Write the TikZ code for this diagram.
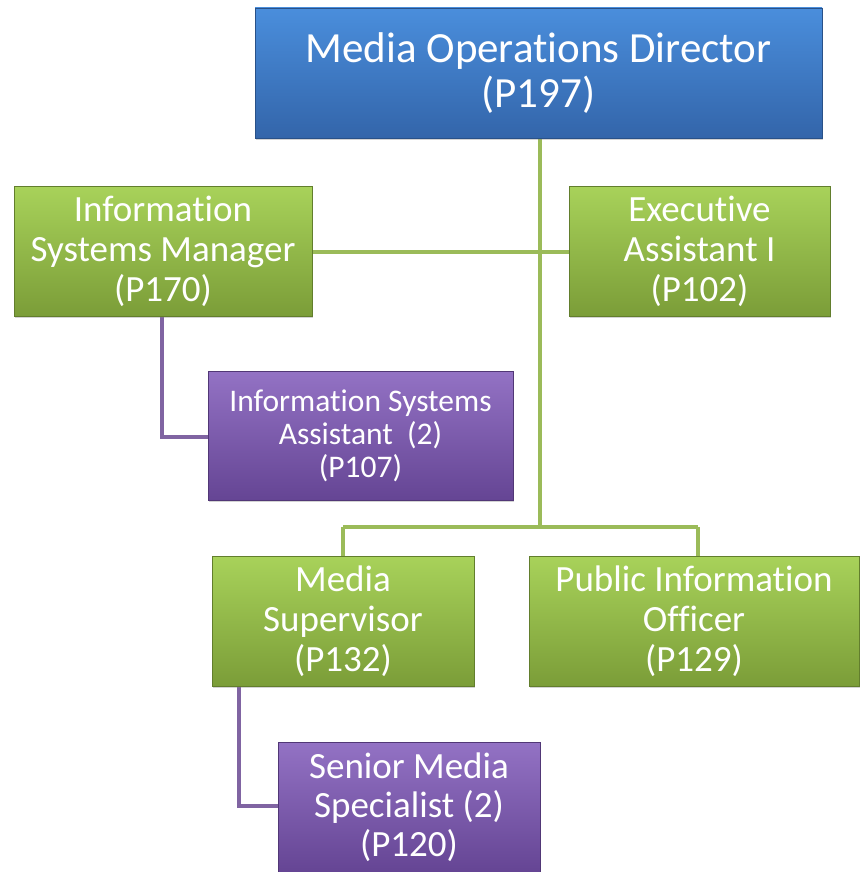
\documentclass[tikz,border=0pt]{standalone}
\usepackage{fontspec}
\setmainfont{Carlito}[Ligatures=NoCommon]
\usepackage{xcolor}
\usetikzlibrary{shadows}

\definecolor{grntop}{HTML}{A8D25A}
\definecolor{grnbot}{HTML}{7B9D38}
\definecolor{blutop}{HTML}{4A8EDC}
\definecolor{blubot}{HTML}{3365AA}
\definecolor{purtop}{HTML}{9372C4}
\definecolor{purbot}{HTML}{654594}
\definecolor{grnline}{HTML}{9BBB59}
\definecolor{purline}{HTML}{8064A2}

\tikzset{
  box/.style={rectangle, align=center, text=white, inner sep=0pt, minimum height=130pt,
    drop shadow={opacity=0.35, shadow xshift=1pt, shadow yshift=-2pt}},
  grnbox/.style={box, top color=grntop, bottom color=grnbot, draw=grnbot!80!black, line width=0.6pt,
    font=\fontsize{37}{40}\selectfont},
  blubox/.style={box, top color=blutop, bottom color=blubot, draw=blubot!80!black, line width=0.6pt,
    font=\fontsize{43}{45}\selectfont},
  purbox/.style={box, top color=purtop, bottom color=purbot, draw=purbot!80!black, line width=0.6pt,
    font=\fontsize{37}{39}\selectfont},
  grnlink/.style={draw=grnline, line width=4pt},
  purlink/.style={draw=purline, line width=4pt}
}

\begin{document}
\begin{tikzpicture}[x=1pt,y=-1pt]
            		\useasboundingbox (0,0) rectangle (859,872);

            		\coordinate (t) at (540,527);
            		\coordinate (ml) at (343,527);
            		\coordinate (mr) at (698,527);
            		\coordinate (pa) at (162,437);
            		\coordinate (pb) at (239,806);

            		% links drawn first, boxes go over them
            		\draw [grnlink] (540,138) -- (t) (ml) -- (mr) (ml) -- (343,556) (mr) -- (698,556);
            		\draw [grnlink] (312,252) -- (569,252);
            		\draw [purlink] (162,316) -- (pa) -- (208,437);
            		\draw [purlink] (239,686) -- (pb) -- (278,806);

            		\node (dir) at (538.5,73) [blubox, minimum width=567pt] {Media Operations Director\\ (P197)};
            		\node (ism) at (163,251) [grnbox, minimum width=298pt] {Information\\ Systems Manager\\ (P170)};
            		\node (ea) at (699.5,251) [grnbox, minimum width=261pt] {Executive\\ Assistant I\\ (P102)};
            		\node (isa) at (360.5,435.5) [purbox, minimum width=305pt, minimum height=129pt, font=\fontsize{31.5}{33}\selectfont] {Information Systems\\ Assistant~~(2)\\ (P107)};
            		\node (ms) at (343,621) [grnbox, minimum width=262pt] {Media\\ Supervisor\\ (P132)};
            		\node (pio) at (694,621) [grnbox, minimum width=330pt] {Public Information\\ Officer\\ (P129)};
            		\node (sms) at (409,807) [purbox, minimum width=262pt] {Senior Media\\ Specialist (2)\\ (P120)};
        		\end{tikzpicture}
\end{document}
